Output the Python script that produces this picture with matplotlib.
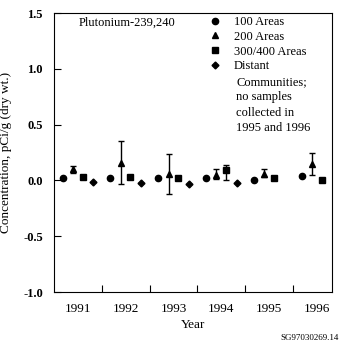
import numpy as np
import matplotlib.pyplot as plt
from matplotlib.lines import Line2D

plt.rcParams['font.family'] = ['Liberation Serif', 'DejaVu Serif']

years = [1991, 1992, 1993, 1994, 1995, 1996]

# 100 Areas
a100 = [0.02, 0.02, 0.02, 0.02, 0.00, 0.04]
# 200 Areas (with error bars: low, high)
a200 = [0.10, 0.16, 0.06, 0.05, 0.06, 0.15]
a200_lo = [0.07, -0.03, -0.12, 0.01, 0.03, 0.05]
a200_hi = [0.13, 0.35, 0.24, 0.10, 0.10, 0.25]
# 300/400 Areas
a300 = [0.03, 0.03, 0.02, 0.09, 0.02, 0.00]
a300_lo = [0.03, 0.03, 0.02, 0.00, 0.02, 0.00]
a300_hi = [0.03, 0.03, 0.02, 0.14, 0.02, 0.00]
# Distant Communities (none in 1995, 1996)
dist_years = [1991, 1992, 1993, 1994]
dist = [-0.01, -0.02, -0.03, -0.02]

fig = plt.figure(figsize=(3.42, 3.47), dpi=100)
ax = fig.add_axes([0.158, 0.1585, 0.813, 0.804])

yr = np.array(years, dtype=float)
ax.plot(yr - 0.32, a100, 'o', color='black', ms=4.5)
ax.errorbar(yr - 0.1, a200,
            yerr=[np.array(a200) - np.array(a200_lo), np.array(a200_hi) - np.array(a200)],
            fmt='^', color='black', ms=4, capsize=2.5, elinewidth=1)
ax.errorbar(yr + 0.1, a300,
            yerr=[np.array(a300) - np.array(a300_lo), np.array(a300_hi) - np.array(a300)],
            fmt='s', color='black', ms=4, capsize=2.5, elinewidth=1)
ax.plot(np.array(dist_years) + 0.32, dist, 'D', color='black', ms=3.5)

ax.set_xlim(1990.5, 1996.32)
ax.set_ylim(-1.0, 1.5)
ax.set_yticks([-1.0, -0.5, 0.0, 0.5, 1.0, 1.5])
ax.set_yticklabels(['-1.0', '-0.5', '0.0', '0.5', '1.0', '1.5'], fontsize=9, fontweight='bold')
ax.set_xticks([y + 0.5 for y in years[:-1]])
ax.set_xticklabels([])
ax.set_xticks(years, minor=True)
ax.set_xticklabels([str(y) for y in years], minor=True, fontsize=9.5)
ax.tick_params(axis='x', which='minor', length=0, pad=8)
ax.tick_params(axis='both', which='major', direction='in', length=5)
ax.tick_params(axis='y', pad=8)

ax.set_xlabel('Year', fontsize=9.5, labelpad=3)
ax.set_ylabel('Concentration, pCi/g (dry wt.)', fontsize=9.5, labelpad=8)

ax.text(0.09, 0.988, 'Plutonium-239,240', transform=ax.transAxes, fontsize=9, va='top')

handles = [
    Line2D([], [], marker='o', color='black', ls='none', ms=4.5),
    Line2D([], [], marker='^', color='black', ls='none', ms=4),
    Line2D([], [], marker='s', color='black', ls='none', ms=4),
    Line2D([], [], marker='D', color='black', ls='none', ms=3.5),
]
labels = ['100 Areas', '200 Areas', '300/400 Areas', 'Distant']
ax.legend(handles, labels, loc='upper left', bbox_to_anchor=(0.52, 1.025), frameon=False,
          fontsize=9, handlelength=1.0, handletextpad=1.0, labelspacing=0.22, borderpad=0.3)
ax.text(0.655, 0.775, 'Communities;\nno samples\ncollected in\n1995 and 1996', transform=ax.transAxes,
        fontsize=9, va='top', linespacing=1.38)

fig.text(0.99, 0.015, 'SG97030269.14', fontsize=6.5, ha='right', va='bottom')

fig.savefig('out.png', dpi=100)
